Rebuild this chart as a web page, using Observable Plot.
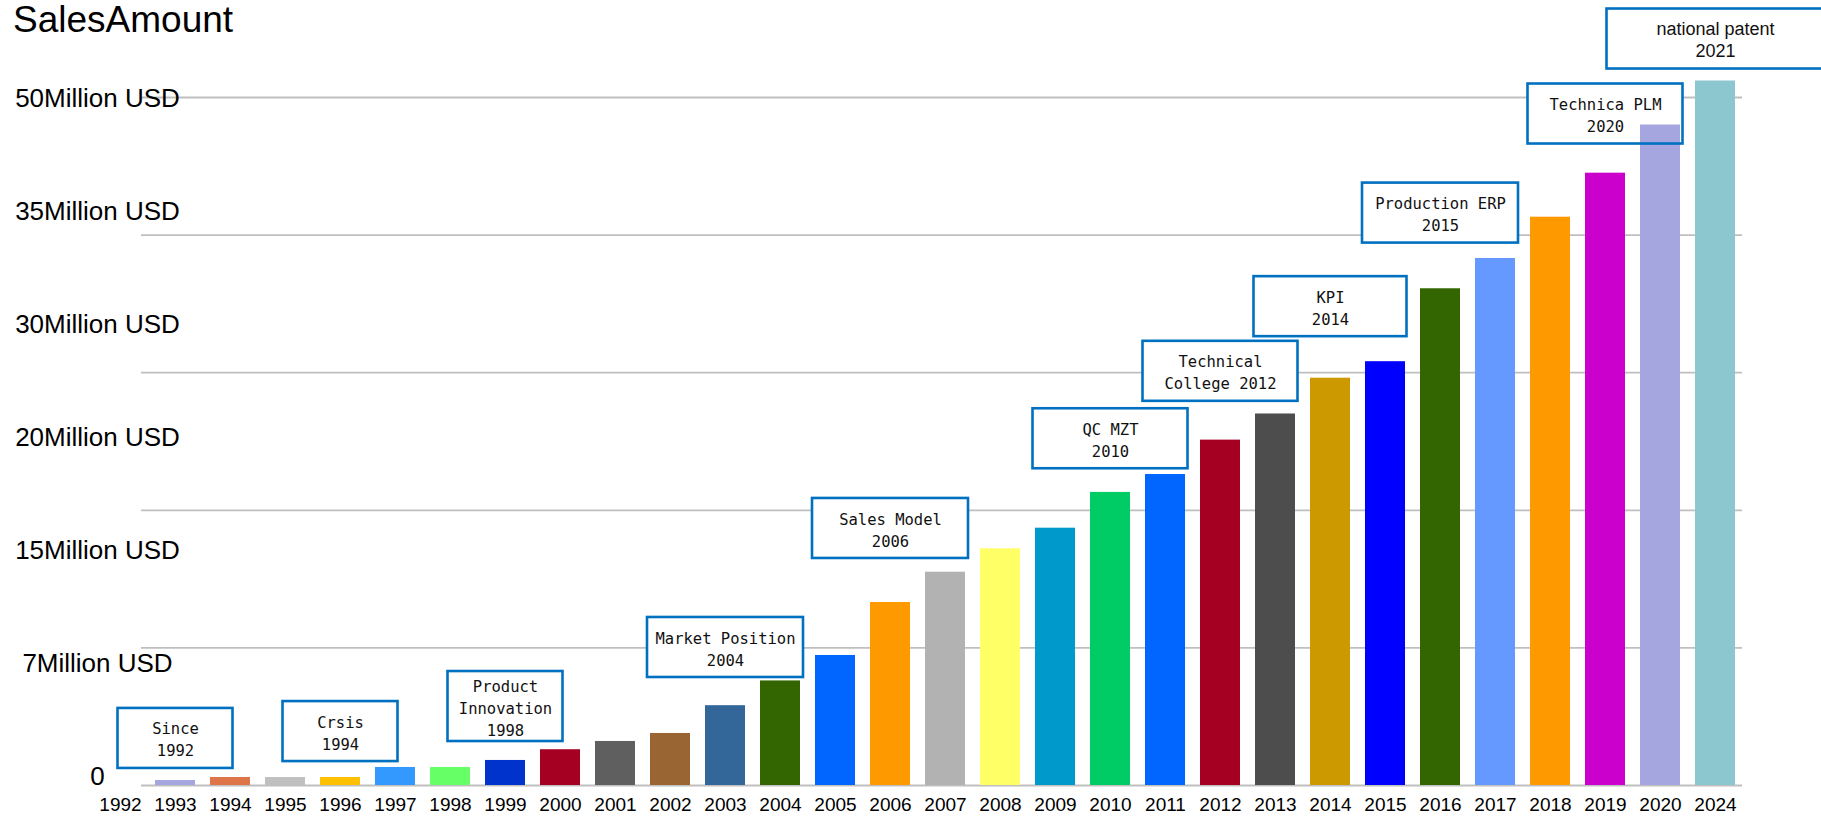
<!DOCTYPE html>
<html>
<head>
<meta charset="utf-8">
<script src="https://cdn.jsdelivr.net/npm/d3@7"></script>
<script src="https://cdn.jsdelivr.net/npm/@observablehq/plot@0.6"></script>
<style>
  body { margin: 0; background: #fff; font-family: "Liberation Sans", Arial, sans-serif; }
  #wrap { position: relative; width: 1821px; height: 820px; }
  #wrap svg { position: absolute; left: 0; top: 0; }
  #title { position: absolute; left: 13px; top: 0; height: 40px; line-height: 40px; font-size: 37px; color: #000; z-index: 5; }
</style>
</head>
<body>
<div id="wrap"><div id="title">SalesAmount</div></div>
<script>
// ---- data ----
const yearLabels = ["1992","1993","1994","1995","1996","1997","1998","1999","2000","2001","2002","2003","2004","2005","2006","2007","2008","2009","2010","2011","2012","2013","2014","2015","2016","2017","2018","2019","2020","2024"];
const sales = [null, 0.36, 0.58, 0.58, 0.58, 1.31, 1.31, 1.82, 2.6, 3.2, 3.78, 5.8, 7.6, 9.45, 13.3, 15.5, 17.2, 18.7, 21.3, 22.6, 25.1, 27.0, 29.6, 30.8, 36.1, 38.3, 41.3, 44.5, 48.0, 51.2];
const barColors = [null, "#a5a5e0", "#dd7548", "#c0c0c0", "#ffc000", "#3399ff", "#66ff66", "#0033cc", "#a50021", "#5f5f5f", "#996633", "#336699", "#336600", "#0066ff", "#ff9900", "#b2b2b2", "#ffff66", "#0099cc", "#00cc66", "#0066ff", "#a50021", "#4d4d4d", "#cc9900", "#0000ff", "#336600", "#6699ff", "#ff9900", "#cc00cc", "#a5a5e0", "#8cc7cf"];
const yTickLabels = ["0", "7Million USD", "15Million USD", "20Million USD", "30Million USD", "35Million USD", "50Million USD"];
const gridValues = [0, 10, 20, 30, 40, 50];
const annoText = ["Since\n1992", "Crsis\n1994", "Product\nInnovation\n1998", "Market Position\n2004", "Sales Model\n2006", "QC MZT\n2010", "Technical\nCollege 2012", "KPI\n2014", "Production ERP\n2015", "Technica PLM\n2020", "national patent\n2021"];
const annoYear = ["1993", "1996", "1999", "2003", "2006", "2010", "2012", "2014", "2016", "2019", "2024"];
const annoValue = [3.42, 3.92, 5.74, 10.03, 18.68, 25.2, 30.1, 34.8, 41.6, 48.8, 54.25];

// ---- styles ----
const annoBoxWidth = [115, 115, 115, 156, 156, 155, 155, 153, 156, 155, 217];
const annoFont = ["mono","mono","mono","mono","mono","mono","mono","mono","mono","mono","sans"];
const MONO = "DejaVu Sans Mono, Liberation Mono, monospace";
const SANS = "Liberation Sans, Arial, sans-serif";
const W = 1821, H = 820;

const bars = yearLabels.map((y, i) => ({year: y, value: sales[i], color: barColors[i]})).filter(d => d.value != null);
const annos = annoText.map((t, i) => ({text: t, year: annoYear[i], value: annoValue[i], w: annoBoxWidth[i], font: annoFont[i], lines: t.split("\n").length}));

const BW = 40; // approx bandwidth in px
const boxOpts = a => ({
  x: "year", y1: "value", y2: "value",
  insetLeft: -(a.w - BW) / 2, insetRight: -(a.w - BW) / 2,
  insetTop: -(a.lines > 2 ? 35 : 30), insetBottom: -(a.lines > 2 ? 35 : 30)
});
const boxFills = annos.map(a => Plot.barY([a], {...boxOpts(a), fill: "white"}));
const boxStrokes = annos.map(a => Plot.barY([a], {...boxOpts(a), fill: "none", stroke: "#0070c0", strokeWidth: 2.6}));
const boxTexts = annos.map(a => Plot.text([a], {
  x: "year", y: "value", text: "text",
  fontFamily: a.font === "mono" ? MONO : SANS,
  fontSize: a.font === "mono" ? 15.5 : 18,
  lineHeight: a.font === "mono" ? 1.42 : 1.22,
  fill: "#111"
}));

const chart = Plot.plot({
  width: W, height: H,
  marginLeft: 141, marginRight: W - 1742, marginTop: 97, marginBottom: 35,
  style: {fontFamily: SANS, background: "white"},
  x: {type: "band", domain: yearLabels, range: [92.5, 1742], paddingInner: 0.28, paddingOuter: 0, axis: null},
  y: {domain: [0, 50], axis: null},
  color: {type: "identity"},
  marks: [
    Plot.ruleY(gridValues, {stroke: "#bfbfbf", strokeWidth: 1.8}),
    ...boxFills,
    Plot.barY(bars, {x: "year", y: "value", fill: "color"}),
    ...boxStrokes,
    ...boxTexts,
    Plot.axisX({tickSize: 0, tickPadding: 12, fontSize: 19, fill: "#000", label: null})
  ]
});

const yLabels = Plot.plot({
  width: W, height: H,
  marginLeft: 97, marginRight: 0, marginTop: 0, marginBottom: 0,
  style: {fontFamily: SANS, background: "transparent"},
  x: {axis: null},
  y: {type: "point", domain: yTickLabels, range: [777, 97], padding: 0, axis: null},
  marks: [
    Plot.axisY({tickSize: 0, tickPadding: 0, textAnchor: "middle", fontSize: 26, fill: "#000", tickFormat: d => d, label: null})
  ]
});
yLabels.style.background = "transparent";
yLabels.style.pointerEvents = "none";

const wrap = document.getElementById("wrap");
wrap.appendChild(chart);
wrap.appendChild(yLabels);
</script>
</body>
</html>
